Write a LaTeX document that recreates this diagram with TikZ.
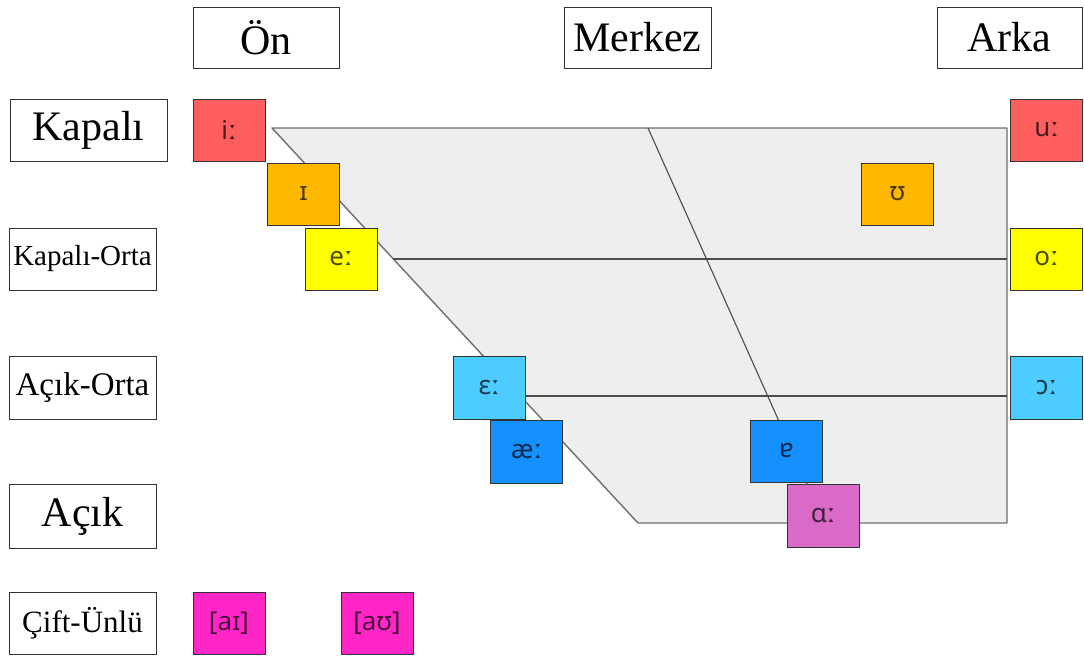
\documentclass[tikz,border=0pt]{standalone}
\usepackage{fontspec}
\setmainfont{Liberation Serif}
\newfontfamily\ipafont{Noto Sans}
\definecolor{cRed}{HTML}{FF5E5E}
\definecolor{cOrange}{HTML}{FFB800}
\definecolor{cYellow}{HTML}{FFFF00}
\definecolor{cLightBlue}{HTML}{4DCCFF}
\definecolor{cBlue}{HTML}{1490FF}
\definecolor{cOrchid}{HTML}{D96BC6}
\definecolor{cMagenta}{HTML}{FF26C8}
\definecolor{cArea}{HTML}{EEEEEE}
\definecolor{cEdge}{HTML}{6E6E6E}
\definecolor{cBorder}{HTML}{333333}
\tikzset{
  labelbox/.style={draw=cBorder, line width=1pt, fill=white, inner sep=0pt, minimum height=62pt},
  headbox/.style={labelbox, minimum width=146pt, minimum height=61pt, font=\fontsize{42}{48}\selectfont},
  rowbox/.style={labelbox, minimum width=147pt},
  vowel/.style={draw=cBorder, line width=1pt, fill=#1, text=#1!30!black, inner sep=0pt,
    minimum width=72pt, minimum height=62pt, font=\ipafont\fontsize{26}{30}\selectfont},
  chartedge/.style={draw=cEdge, line width=1.4pt},
  chartline/.style={draw=black!70, line width=1.1pt}
}
\begin{document}
\begin{tikzpicture}[x=1pt,y=-1pt]
\useasboundingbox (0,0) rectangle (1084,659);
% chart area
\coordinate (TL) at (272,128);
\coordinate (TR) at (1007,128);
\coordinate (BR) at (1007,523);
\coordinate (BL) at (638,523);
\coordinate (ML1) at (393.4,259);
\coordinate (MR1) at (1007,259);
\coordinate (ML2) at (520.3,396);
\coordinate (MR2) at (1007,396);
\coordinate (CT) at (648,128);
\coordinate (CB) at (807,484);
\fill[cArea] (TL) -- (TR) -- (BR) -- (BL) -- cycle;
\draw[chartedge, line join=round] (TL) -- (TR) -- (BR) -- (BL) -- cycle;
\draw[chartline] (ML1) -- (MR1);
\draw[chartline] (ML2) -- (MR2);
\draw[chartline] (CT) -- (CB);
% headers
\node[headbox] (on) at (266,37.5) {Ön};
\node[headbox, minimum width=147pt] (merkez) at (637.5,37.5) {Merkez};
\node[headbox, minimum width=145pt] (arka) at (1009.5,37.5) {Arka};
% row labels
\node[rowbox, minimum width=157pt, font=\fontsize{42}{48}\selectfont] (kapali) at (88.5,130) {Kapalı};
\node[rowbox, font=\fontsize{29}{34}\selectfont] (kapaliorta) at (82.5,259) {Kapalı-Orta};
\node[rowbox, minimum height=63pt, font=\fontsize{33}{38}\selectfont] (acikorta) at (82.5,387.5) {Açık-Orta};
\node[rowbox, minimum height=64pt, font=\fontsize{42}{48}\selectfont] (acik) at (82.5,516) {Açık};
\node[rowbox, font=\fontsize{31}{36}\selectfont] (cift) at (82.5,623) {Çift-Ünlü};
% vowels
\node[vowel=cRed] (ii) at (229,130) {iː};
\node[vowel=cOrange] (ih) at (303.5,194) {ɪ};
\node[vowel=cYellow] (ee) at (341,259) {eː};
\node[vowel=cOrange] (uh) at (897.5,194) {ʊ};
\node[vowel=cRed] (uu) at (1046.5,130) {uː};
\node[vowel=cYellow] (oo) at (1046.5,259) {oː};
\node[vowel=cLightBlue, minimum height=63pt] (eh) at (489,387.5) {ɛː};
\node[vowel=cLightBlue, minimum height=63pt] (oh) at (1046.5,387.5) {ɔː};
\node[vowel=cBlue, minimum height=63pt] (ae) at (526.5,451.5) {æː};
\node[vowel=cBlue] (schwa) at (786.5,451) {ɐ};
\node[vowel=cOrchid, minimum height=63pt] (aa) at (823,515.5) {ɑː};
\node[vowel=cMagenta] (ai) at (229,623) {[aɪ]};
\node[vowel=cMagenta] (au) at (377,623) {[aʊ]};
\end{tikzpicture}
\end{document}
